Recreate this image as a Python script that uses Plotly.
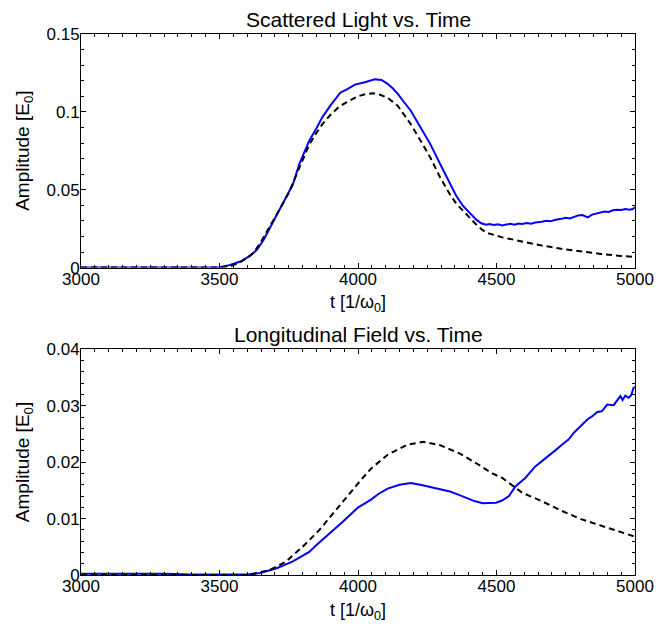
import plotly.graph_objects as go

# Scattered light (top panel)
t_scat_sim = [3000, 3100, 3200, 3300, 3400, 3500, 3530, 3575, 3610, 3635, 3660, 3682, 3705,
              3729, 3765, 3788, 3824, 3850, 3871, 3900, 3936, 3960, 3989, 4025, 4060, 4085,
              4107, 4125, 4143, 4165, 4190, 4226, 4261, 4297, 4332, 4355, 4380, 4405, 4427,
              4445, 4462, 4475, 4490, 4505, 4521, 4535, 4550, 4565, 4580, 4592, 4610, 4625,
              4640, 4663, 4680, 4695, 4710, 4734, 4750, 4765, 4780, 4795, 4810, 4822, 4830,
              4845, 4860, 4876, 4890, 4905, 4920, 4935, 4950, 4965, 4980, 4992, 5000]
a_scat_sim = [0, 0, 0, 0, 0, 0.0003, 0.0013, 0.0039, 0.0075, 0.0114, 0.018, 0.0254, 0.033,
              0.0405, 0.0535, 0.0664, 0.0815, 0.0895, 0.0965, 0.104, 0.1123, 0.1145, 0.1175,
              0.119, 0.1209, 0.1205, 0.118, 0.1152, 0.1117, 0.1065, 0.1009, 0.090, 0.0793,
              0.0664, 0.0535, 0.046, 0.0394, 0.0345, 0.0308, 0.0285, 0.0276, 0.0280, 0.0274,
              0.0278, 0.0271, 0.0277, 0.0281, 0.0276, 0.0283, 0.0280, 0.0286, 0.0282, 0.0290,
              0.0295, 0.0300, 0.0297, 0.0306, 0.0313, 0.0320, 0.0316, 0.0328, 0.0335, 0.0338,
              0.0330, 0.0323, 0.0340, 0.0348, 0.0355, 0.0360, 0.0357, 0.0368, 0.0372, 0.0370,
              0.0376, 0.0372, 0.0376, 0.0388]

t_scat_model = [3000, 3100, 3200, 3300, 3400, 3500, 3540, 3570, 3599, 3625, 3647, 3675, 3706,
                3730, 3753, 3788, 3824, 3850, 3871, 3900, 3930, 3955, 3977, 4000, 4025, 4054,
                4080, 4107, 4125, 4143, 4165, 4190, 4226, 4261, 4297, 4332, 4355, 4380, 4405,
                4427, 4450, 4468, 4521, 4592, 4663, 4734, 4805, 4876, 4947, 5000]
a_scat_model = [0, 0, 0, 0, 0, 0, 0.001, 0.003, 0.006, 0.010, 0.0157, 0.024, 0.034, 0.0415,
                0.049, 0.064, 0.079, 0.0865, 0.092, 0.098, 0.103, 0.1058, 0.108, 0.110, 0.1113,
                0.112, 0.111, 0.109, 0.1065, 0.104, 0.0985, 0.0922, 0.0815, 0.0707, 0.0577,
                0.047, 0.041, 0.0362, 0.0315, 0.0276, 0.0240, 0.0222, 0.0194, 0.0168, 0.0142,
                0.0121, 0.0103, 0.0088, 0.0075, 0.0068]

# Longitudinal field (bottom panel)
t_long_sim = [3000, 3100, 3200, 3300, 3400, 3500, 3600, 3647, 3706, 3765, 3824, 3850, 3883,
              3910, 3942, 3970, 3989, 4001, 4025, 4048, 4075, 4107, 4150, 4190, 4225, 4261,
              4300, 4332, 4360, 4391, 4420, 4450, 4475, 4498, 4520, 4545, 4568, 4604, 4639,
              4660, 4687, 4710, 4734, 4760, 4781, 4805, 4829, 4845, 4864, 4880, 4900, 4923,
              4935, 4947, 4955, 4965, 4977, 4987, 4994, 5000]
a_long_sim = [0.0002, 0.0002, 0.0003, 0.0002, 0.0001, 0.0001, 0.0001, 0.00035, 0.0012, 0.0024,
              0.0041, 0.0053, 0.0067, 0.0080, 0.0093, 0.0106, 0.0114, 0.0120, 0.0127, 0.0134,
              0.0144, 0.0153, 0.0160, 0.0163, 0.0160, 0.0156, 0.0152, 0.0148, 0.0143, 0.0137,
              0.0131, 0.0127, 0.0127, 0.0128, 0.0132, 0.0140, 0.0157, 0.0172, 0.0192, 0.0200,
              0.0210, 0.0220, 0.0230, 0.0240, 0.0253, 0.0264, 0.0276, 0.0281, 0.0289, 0.0290,
              0.0302, 0.0301, 0.0308, 0.0317, 0.0310, 0.0318, 0.0314, 0.0319, 0.0331, 0.0333]

t_long_model = [3000, 3300, 3600, 3635, 3682, 3741, 3800, 3859, 3918, 3977, 4010, 4048, 4107,
                4178, 4237, 4297, 4368, 4427, 4485, 4521, 4592, 4663, 4734, 4805, 4876, 4947,
                5000]
a_long_model = [0, 0, 0, 0.00035, 0.0009, 0.0024, 0.005, 0.0079, 0.0114, 0.0148, 0.0168,
                0.0189, 0.0213, 0.0231, 0.0236, 0.0230, 0.0215, 0.0198, 0.0180, 0.0172, 0.0146,
                0.0131, 0.0114, 0.0099, 0.0088, 0.0076, 0.0068]

x_ticks = [3000, 3500, 4000, 4500, 5000]
y_ticks_top = [0, 0.05, 0.1, 0.15]
y_ticks_bot = [0, 0.01, 0.02, 0.03, 0.04]

titles = ["Scattered Light vs. Time", "Longitudinal Field vs. Time"]
x_title = "t [1/ω<sub>0</sub>]"
y_title = "Amplitude [E<sub>0</sub>]"

FONT = "Liberation Sans, Arial, Helvetica, sans-serif"
BLUE = "#0000ff"
TOP_DOM = [0.5682, 1]
BOT_DOM = [0, 0.4172]

fig = go.Figure()
fig.add_trace(go.Scatter(x=t_scat_sim, y=a_scat_sim, mode="lines",
                         line=dict(color=BLUE, width=2), xaxis="x", yaxis="y"))
fig.add_trace(go.Scatter(x=t_scat_model, y=a_scat_model, mode="lines",
                         line=dict(color="black", width=2, dash="6px,4px"), xaxis="x", yaxis="y"))
fig.add_trace(go.Scatter(x=t_long_sim, y=a_long_sim, mode="lines",
                         line=dict(color=BLUE, width=2), xaxis="x2", yaxis="y2"))
fig.add_trace(go.Scatter(x=t_long_model, y=a_long_model, mode="lines",
                         line=dict(color="black", width=2, dash="6px,4px"), xaxis="x2", yaxis="y2"))


def _axis(**kw):
    base = dict(
        showline=True, linecolor="black", linewidth=1, mirror="allticks",
        ticks="inside", ticklen=5, tickcolor="black", showgrid=False, zeroline=False,
        tickfont=dict(family=FONT, size=17, color="black"),
    )
    base.update(kw)
    return base


def _label(text, x, y, size=18, **kw):
    d = dict(text=text, x=x, y=y, xref="paper", yref="paper", showarrow=False,
             xanchor="center", yanchor="middle", font=dict(family=FONT, size=size, color="black"))
    d.update(kw)
    return d


xminor = dict(ticks="inside", dtick=50, ticklen=3, tickcolor="black")

# the page body has an 8px margin, so the figure is shrunk by that much
fig.update_layout(
    width=658, height=616,
    paper_bgcolor="white", plot_bgcolor="white",
    showlegend=False,
    margin=dict(l=73, r=20, t=26, b=49),
    xaxis=_axis(domain=[0, 1], range=[3000, 5000], tickvals=x_ticks, anchor="y",
                minor=xminor, ticklabelstandoff=-4),
    yaxis=_axis(domain=TOP_DOM, range=[0, 0.15], tickvals=y_ticks_top, anchor="x",
                minor=dict(ticks="inside", dtick=0.01, ticklen=3, tickcolor="black"),
                ticklabelstandoff=-3),
    xaxis2=_axis(domain=[0, 1], range=[3000, 5000], tickvals=x_ticks, anchor="y2",
                 minor=xminor, ticklabelstandoff=-4),
    yaxis2=_axis(domain=BOT_DOM, range=[0, 0.04], tickvals=y_ticks_bot, anchor="x2",
                 minor=dict(ticks="inside", dtick=0.002, ticklen=3, tickcolor="black"),
                 ticklabelstandoff=-3),
    annotations=[
        _label(titles[0], 0.5, TOP_DOM[1], size=21, yshift=15),
        _label(titles[1], 0.5, BOT_DOM[1], size=21, yshift=15),
        _label(x_title, 0.5, TOP_DOM[0], yshift=-36),
        _label(x_title, 0.5, BOT_DOM[0], yshift=-36),
        _label(y_title, 0, sum(TOP_DOM) / 2, size=19, xshift=-57, textangle=-90),
        _label(y_title, 0, sum(BOT_DOM) / 2, size=19, xshift=-57, textangle=-90),
    ],
)

fig.write_html("out.html")
